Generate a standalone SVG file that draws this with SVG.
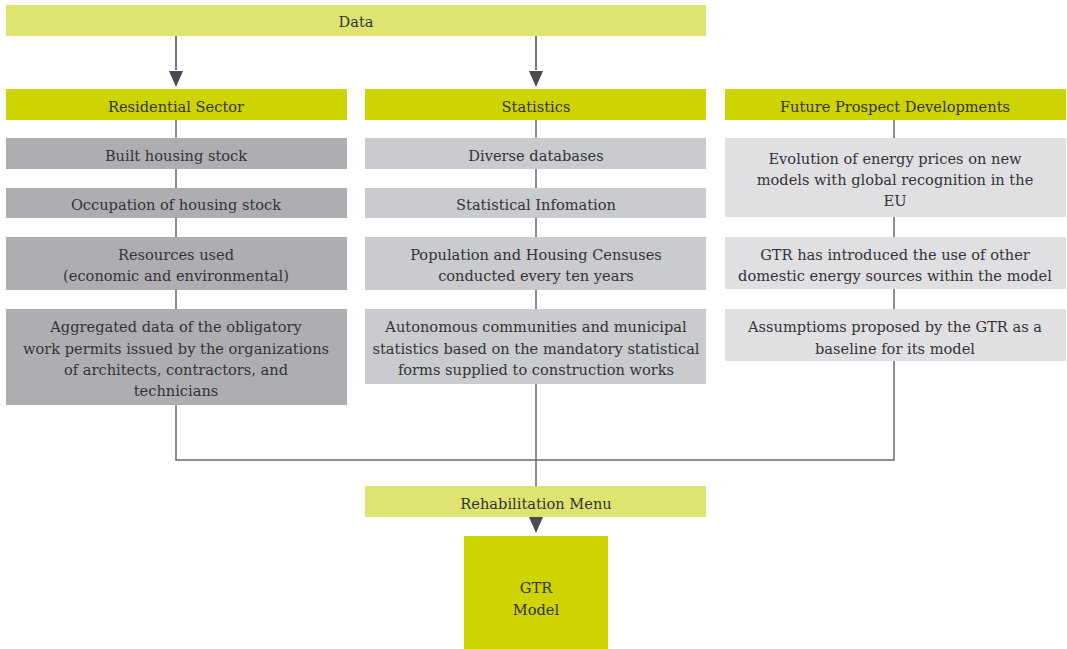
<svg xmlns="http://www.w3.org/2000/svg" width="1067" height="649" viewBox="0 0 1067 649">
<style>
.t text{font-family:'DejaVu Serif','Liberation Serif',serif;font-size:14.6px;fill:#333336;text-anchor:middle;dominant-baseline:central}
.lt{fill:#dfe370}.hd{fill:#cdd400}.g1{fill:#aeaeb2}.g2{fill:#cacbcf}.g3{fill:#e0e0e2}
.ln{fill:none;stroke:#6a6a6e;stroke-width:1.5}
.ar{fill:none;stroke:#4a4a50;stroke-width:1.5}
</style>
<g id="connectors">
<path class="ar" d="M176,36 V70"/><path d="M169,71 H183 L176,87 Z" fill="#4a4a50"/>
<path class="ar" d="M536,36 V70"/><path d="M529,71 H543 L536,87 Z" fill="#4a4a50"/>
<path class="ln" d="M176,120 V460 H894 V120"/>
<path class="ln" d="M536,120 V486"/>
<path d="M529,517 H543 L536,533 Z" fill="#4a4a50"/>
</g>
<g class="t" transform="translate(0,0)">
<g id="data"><rect class="lt" x="6" y="5" width="700" height="31"/><text x="356" y="21">Data</text></g>
<g id="residential"><rect class="hd" x="6" y="89" width="341" height="31"/><text x="176" y="106">Residential Sector</text></g>
<g id="statistics"><rect class="hd" x="365" y="89" width="341" height="31"/><text x="536" y="106">Statistics</text></g>
<g id="future"><rect class="hd" x="725" y="89" width="341" height="31"/><text x="895" y="106">Future Prospect Developments</text></g>
<g id="built"><rect class="g1" x="6" y="138" width="341" height="31"/><text x="176" y="155">Built housing stock</text></g>
<g id="occupation"><rect class="g1" x="6" y="188" width="341" height="30"/><text x="176" y="204">Occupation of housing stock</text></g>
<g id="resources"><rect class="g1" x="6" y="237" width="341" height="53"/><text x="176" y="254">Resources used</text><text x="176" y="275">(economic and environmental)</text></g>
<g id="aggregated"><rect class="g1" x="6" y="309" width="341" height="96"/><text x="176" y="326">Aggregated data of the obligatory</text><text x="176" y="348">work permits issued by the organizations</text><text x="176" y="369">of architects, contractors, and</text><text x="176" y="390">technicians</text></g>
<g id="diverse"><rect class="g2" x="365" y="138" width="341" height="31"/><text x="536" y="155">Diverse databases</text></g>
<g id="statinfo"><rect class="g2" x="365" y="188" width="341" height="30"/><text x="536" y="204">Statistical Infomation</text></g>
<g id="population"><rect class="g2" x="365" y="237" width="341" height="53"/><text x="536" y="254">Population and Housing Censuses</text><text x="536" y="275">conducted every ten years</text></g>
<g id="autonomous"><rect class="g2" x="365" y="309" width="341" height="75"/><text x="536" y="326">Autonomous communities and municipal</text><text x="536" y="348">statistics based on the mandatory statistical</text><text x="536" y="369">forms supplied to construction works</text></g>
<g id="evolution"><rect class="g3" x="725" y="138" width="341" height="79"/><text x="895" y="158">Evolution of energy prices on new</text><text x="895" y="179">models with global recognition in the</text><text x="895" y="200">EU</text></g>
<g id="gtrhas"><rect class="g3" x="725" y="237" width="341" height="52"/><text x="895" y="254">GTR has introduced the use of other</text><text x="895" y="275">domestic energy sources within the model</text></g>
<g id="assumptions"><rect class="g3" x="725" y="309" width="341" height="52"/><text x="895" y="326">Assumptioms proposed by the GTR as a</text><text x="895" y="348">baseline for its model</text></g>
<g id="rehab"><rect class="lt" x="365" y="486" width="341" height="31"/><text x="536" y="503">Rehabilitation Menu</text></g>
<g id="gtrmodel"><rect class="hd" x="464" y="536" width="144" height="113"/><text x="536" y="587">GTR</text><text x="536" y="609">Model</text></g>
</g>
</svg>
